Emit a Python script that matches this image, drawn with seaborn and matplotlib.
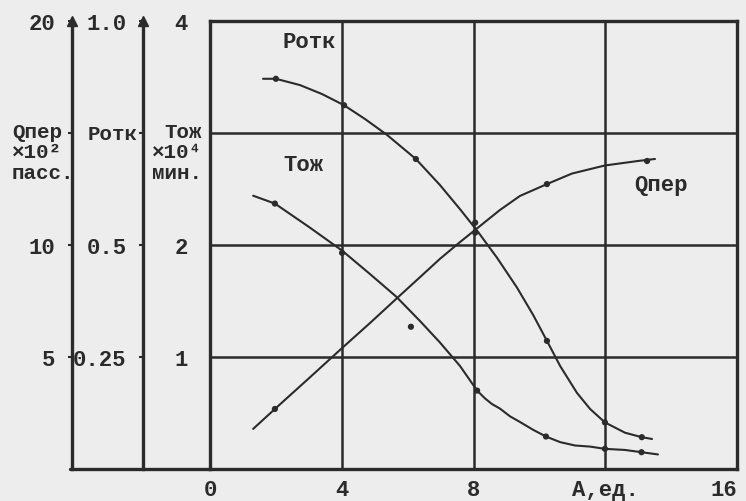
import matplotlib

matplotlib.use("Agg")
import matplotlib.pyplot as plt
import pandas as pd
import seaborn as sns

# x axis: A, units
X_TICKS = [0, 4, 8, 12, 16]
X_LABELS = ["0", "4", "8", "А,ед.", "16"]

# Ротк curve (0 .. 1.0)
ROTK_X = [1.61, 2.0, 2.73, 3.40, 4.07, 4.71, 5.37, 6.25, 6.98, 7.59, 8.14, 8.71, 9.32,
          9.81, 10.23, 10.63, 11.14, 11.54, 11.99, 12.60, 13.11, 13.42]
ROTK_Y = [0.871, 0.871, 0.857, 0.837, 0.812, 0.781, 0.746, 0.692, 0.634, 0.580, 0.529, 0.472, 0.405,
          0.344, 0.286, 0.230, 0.170, 0.134, 0.104, 0.081, 0.071, 0.067]
ROTK_PTS_X = [2.0, 4.07, 6.25, 8.05, 10.23, 11.99, 13.11]
ROTK_PTS_Y = [0.871, 0.812, 0.692, 0.55, 0.286, 0.104, 0.071]

# Тож curve (x10^4 min, 0 .. 4)
TOZH_X = [1.31, 1.97, 3.01, 4.01, 4.86, 5.65, 6.38, 6.98, 7.59, 8.11, 8.35, 8.56, 8.80, 9.11,
          9.41, 9.81, 10.20, 10.63, 11.08, 11.54, 11.99, 12.60, 13.10, 13.60]
TOZH_Y = [2.44, 2.37, 2.16, 1.95, 1.74, 1.54, 1.32, 1.13, 0.92, 0.70, 0.63, 0.58, 0.54, 0.47,
          0.42, 0.35, 0.29, 0.24, 0.21, 0.20, 0.18, 0.17, 0.15, 0.13]
TOZH_PTS_X = [1.97, 4.01, 6.1, 8.11, 10.20, 11.99, 13.10]
TOZH_PTS_Y = [2.37, 1.93, 1.27, 0.70, 0.29, 0.18, 0.15]

# Qпер curve (x10^2 pass., 0 .. 20)
QPER_X = [1.31, 1.97, 3.01, 4.01, 4.86, 5.65, 6.38, 6.98, 7.59, 8.14, 8.80, 9.41, 10.23,
          10.99, 11.99, 12.99, 13.51]
QPER_Y = [1.79, 2.68, 4.06, 5.40, 6.52, 7.59, 8.57, 9.38, 10.13, 10.78, 11.56, 12.19, 12.72,
          13.19, 13.55, 13.75, 13.84]
QPER_PTS_X = [1.97, 8.05, 10.23, 13.27]
QPER_PTS_Y = [2.68, 10.55, 12.72, 13.75]

Q_TICKS = [5, 10, 15, 20]
Q_LABELS = ["5", "10", "", "20"]
P_TICKS = [0.25, 0.5, 0.75, 1.0]
P_LABELS = ["0.25", "0.5", "", "1.0"]
T_TICKS = [1, 2, 3, 4]
T_LABELS = ["1", "2", "", "4"]

INK = "#2b2b2b"
PAPER = "#ededed"
FONT = ["Liberation Mono", "DejaVu Sans Mono"]
FS = 16
FS_SIDE = 15

sns.set_theme(style="white")
plt.rcParams["font.family"] = FONT
plt.rcParams["font.weight"] = "bold"
plt.rcParams["text.color"] = INK
plt.rcParams["xtick.color"] = INK
plt.rcParams["ytick.color"] = INK

fig = plt.figure(figsize=(7.46, 5.02), dpi=100, facecolor=PAPER)
ax = fig.add_axes([210 / 746, 32 / 502, 527 / 746, 448 / 502])
ax.set_facecolor(PAPER)
ax_q = ax.twinx()
ax_p = ax.twinx()


def curve(axis, xs, ys, px, py):
    df = pd.DataFrame({"x": xs, "y": ys})
    sns.lineplot(data=df, x="x", y="y", ax=axis, color=INK, lw=1.5, sort=False)
    pts = pd.DataFrame({"x": px, "y": py})
    sns.scatterplot(data=pts, x="x", y="y", ax=axis, color=INK, s=20, edgecolor="none", zorder=5)
    axis.set_xlabel("")
    axis.set_ylabel("")


curve(ax, TOZH_X, TOZH_Y, TOZH_PTS_X, TOZH_PTS_Y)
curve(ax_p, ROTK_X, ROTK_Y, ROTK_PTS_X, ROTK_PTS_Y)
curve(ax_q, QPER_X, QPER_Y, QPER_PTS_X, QPER_PTS_Y)

ax.set_xlim(0, 16)
ax.set_ylim(0, 4)
ax_p.set_ylim(0, 1.0)
ax_q.set_ylim(0, 20)

# main frame and grid
for side in ["left", "right", "top", "bottom"]:
    ax.spines[side].set_linewidth(2.4)
    ax.spines[side].set_color(INK)
ax.grid(True, color=INK, lw=1.8)
ax.set_axisbelow(True)
ax.set_xticks(X_TICKS)
ax.set_xticklabels(X_LABELS, fontsize=FS)
ax.get_xticklabels()[-1].set_horizontalalignment("right")
ax.set_yticks(T_TICKS)
ax.set_yticklabels(T_LABELS, fontsize=FS)
ax.tick_params(axis="x", length=0, pad=7)
ax.tick_params(axis="y", length=0, pad=16)

# extra left axes for Ротк and Qпер
for axis, offset, ticks, labels in [
    (ax_p, 48.2, P_TICKS, P_LABELS),
    (ax_q, 99.4, Q_TICKS, Q_LABELS),
]:
    for side in ["right", "top", "bottom"]:
        axis.spines[side].set_visible(False)
    axis.spines["left"].set_visible(True)
    axis.spines["left"].set_position(("outward", offset))
    axis.spines["left"].set_linewidth(2.4)
    axis.spines["left"].set_color(INK)
    axis.yaxis.tick_left()
    axis.set_yticks(ticks)
    axis.set_yticklabels(labels, fontsize=FS)
    axis.tick_params(axis="y", length=3, width=1.5, direction="out", pad=9)
    axis.grid(False)
    top = axis.get_ylim()[1]
    axis.plot(0, top, marker="^", ms=7, color=INK,
              transform=axis.spines["left"].get_spine_transform(), clip_on=False)

# baseline under the extra axes
ax.plot([-0.265, 0], [0, 0], transform=ax.transAxes, color=INK, lw=2.4, clip_on=False)

# axis unit blocks
ax.text(-0.3757, 3.1, "Qпер\n×10²\nпасс.", transform=ax.get_yaxis_transform(),
        ha="left", va="top", fontsize=FS_SIDE, linespacing=1.1)
ax.text(-0.138, 3.0, "Ротк", transform=ax.get_yaxis_transform(),
        ha="right", va="center", fontsize=FS_SIDE)
ax.text(-0.015, 3.1, "Тож\n×10⁴\nмин.", transform=ax.get_yaxis_transform(),
        ha="right", va="top", fontsize=FS_SIDE, linespacing=1.1, multialignment="right")

# curve names
ax.text(3.0, 3.82, "Ротк", ha="center", va="center", fontsize=FS)
ax.text(2.85, 2.72, "Тож", ha="center", va="center", fontsize=FS)
ax.text(13.7, 2.54, "Qпер", ha="center", va="center", fontsize=FS)

fig.savefig("out.png", dpi=100, facecolor=PAPER)
